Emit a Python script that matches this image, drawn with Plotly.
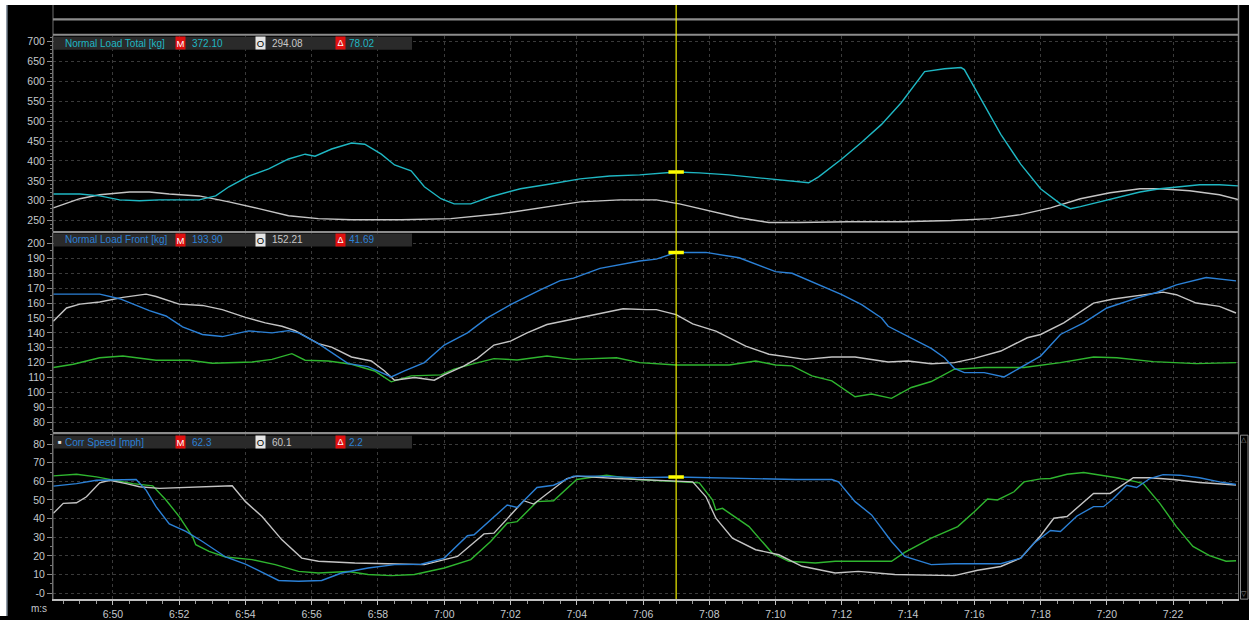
import plotly.graph_objects as go

# ---------------- data ----------------
tick_seconds = [410, 412, 414, 416, 418, 420, 422, 424, 426, 428, 430, 432, 434, 436, 438, 440, 442]
tick_labels = ["6:50", "6:52", "6:54", "6:56", "6:58", "7:00", "7:02", "7:04", "7:06",
               "7:08", "7:10", "7:12", "7:14", "7:16", "7:18", "7:20", "7:22"]
x_range = [408.19, 443.96]
cursor_time = 427.0

total_ticks = [250, 300, 350, 400, 450, 500, 550, 600, 650, 700]
front_ticks = [80, 90, 100, 110, 120, 130, 140, 150, 160, 170, 180, 190, 200]
speed_ticks = [0, 10, 20, 30, 40, 50, 60, 70, 80]
speed_tick_labels = ["-0", "10", "20", "30", "40", "50", "60", "70", "80"]

# Panel 1: Normal Load Total [kg]
t_total_a = [408.2, 409.0, 409.6, 410.2, 410.8, 411.4, 412.6, 413.1, 413.5, 414.1, 414.7, 415.3,
             415.8, 416.1, 416.6, 417.2, 417.6, 418.1, 418.5, 419.0, 419.4, 419.9, 420.3, 420.8,
             421.4, 422.3, 423.2, 424.1, 425.0, 425.9, 427.0, 427.7, 428.6, 429.5, 430.4, 431.0,
             431.3, 432.0, 432.6, 433.2, 433.8, 434.2, 434.5, 435.1, 435.6, 435.7, 436.2, 436.8,
             437.4, 438.0, 438.6, 438.9, 439.2, 439.8, 440.4, 441.0, 441.6, 442.2, 442.8, 443.4, 444.0]
total_a = [317, 317, 312, 302, 300, 302, 302, 312, 335, 362, 380, 405,
           417, 412, 430, 445, 442, 417, 390, 375, 335, 305, 292, 292,
           310, 330, 342, 355, 362, 365, 372.1, 370, 365, 357, 350, 345,
           360, 405, 447, 492, 547, 592, 625, 632, 635, 630, 555, 467,
           392, 330, 292, 280, 285, 297, 310, 322, 330, 335, 340, 340, 337]
t_total_b = [408.2, 409.0, 409.6, 410.5, 411.1, 411.7, 412.6, 413.5, 414.4, 415.3, 416.2, 417.2,
             418.7, 420.2, 421.7, 422.9, 424.1, 425.3, 426.4, 427.1, 428.0, 428.9, 429.8, 430.7,
             432.2, 433.8, 435.3, 436.5, 437.4, 438.3, 439.2, 440.1, 441.0, 441.6, 442.5, 443.4, 444.0]
total_b = [282, 305, 315, 322, 322, 317, 312, 297, 280, 262, 255, 252,
           252, 255, 267, 282, 297, 302, 302, 292, 275, 257, 245, 245,
           247, 247, 250, 255, 265, 282, 305, 320, 330, 330, 325, 315, 302]

# Panel 2: Normal Load Front [kg]
t_front_a = [408.2, 409.6, 410.2, 411.1, 411.6, 412.1, 412.7, 413.3, 414.1, 414.8, 415.3, 415.6,
             416.2, 416.6, 417.1, 417.7, 418.2, 418.4, 418.8, 419.4, 420.0, 420.7, 421.3, 422.0,
             422.9, 423.5, 423.9, 424.7, 425.9, 426.4, 427.0, 427.9, 428.9, 430.0, 430.5, 431.2,
             432.0, 432.6, 433.2, 433.4, 434.0, 434.7, 435.1, 435.4, 435.7, 436.3, 436.9, 437.5,
             438.0, 438.6, 439.3, 440.0, 440.9, 441.5, 442.1, 443.0, 443.9]
front_a = [166, 166, 162.9, 154.9, 151.3, 144, 138.9, 137.5, 141.3, 140, 141.5, 140,
           132.7, 126.7, 119.3, 117.3, 112.2, 110.4, 114.4, 120, 131.8, 140, 150, 158.9,
           168.9, 175.1, 176.7, 183.3, 188.2, 189.5, 193.9, 194, 190.4, 181.1, 180, 173.3,
           165.6, 158.9, 150, 144.4, 137.8, 129.6, 123.3, 116.2, 113.3, 113.3, 110.4, 117.8,
           124.4, 138.9, 146.7, 156.7, 163.3, 167.1, 172.2, 177.1, 174.9]
t_front_b = [408.2, 408.6, 409.0, 409.6, 410.3, 411.0, 411.3, 412.0, 412.7, 413.3, 414.0, 414.6,
             415.1, 415.5, 416.2, 416.6, 417.2, 417.8, 418.2, 418.5, 419.1, 419.7, 420.0, 420.6,
             421.0, 421.5, 422.0, 422.5, 423.1, 423.8, 424.5, 425.4, 426.1, 426.4, 427.0, 427.5,
             428.2, 429.1, 429.8, 430.9, 431.7, 432.4, 433.4, 434.0, 434.7, 435.4, 436.0, 436.8,
             437.6, 438.0, 438.7, 439.6, 440.2, 440.8, 441.7, 442.1, 442.7, 443.4, 443.9]
front_b = [147.8, 156.7, 159.3, 160.7, 163.8, 166, 164.4, 159.3, 158.4, 155.6, 150.4, 146.7,
           144.4, 141.5, 132.7, 130.4, 123.8, 121.1, 114.4, 108.2, 110, 108.2, 111.8, 117.8,
           122.9, 131.8, 134.4, 140, 145.6, 148.9, 152.2, 156.2, 155.6, 155.6, 152.2, 146,
           141.1, 131.1, 125.6, 122.2, 123.8, 123.8, 120.4, 121.1, 119.3, 120, 122.9, 127.8,
           136.7, 138.9, 146.7, 160, 162.7, 164.4, 167.3, 165.6, 160, 157.8, 153.3]
t_front_c = [408.2, 408.8, 409.6, 410.3, 411.3, 412.3, 413.0, 414.2, 414.8, 415.4, 415.8, 416.5,
             417.2, 417.9, 418.4, 419.0, 419.9, 420.3, 420.9, 421.5, 422.2, 423.1, 423.9, 425.2,
             425.9, 427.0, 428.6, 429.4, 430.0, 430.5, 431.1, 431.7, 432.4, 432.9, 433.5, 434.1,
             434.7, 435.4, 436.3, 437.5, 438.6, 439.6, 440.3, 441.4, 442.7, 443.9]
front_c = [116.7, 118.9, 123.3, 124.4, 121.6, 121.6, 119.6, 120.4, 122.2, 126, 121.6, 121.1,
           118.9, 114.4, 107.1, 111.1, 111.8, 115.6, 119.3, 122.7, 121.8, 124.4, 122.2, 123.3,
           120, 118.4, 118.4, 121.1, 118.4, 117.8, 111.1, 107.8, 97.1, 98.9, 96, 103.3,
           107.3, 115.6, 116.7, 116.7, 120, 123.8, 123.3, 120.7, 119.3, 120]

# Panel 3: Corr Speed [mph]
t_speed_a = [408.2, 408.9, 409.5, 410.1, 410.7, 411.0, 411.3, 411.7, 412.2, 412.7, 413.4, 414.0,
             414.5, 415.0, 415.6, 416.3, 416.9, 417.7, 418.5, 419.3, 420.0, 420.7, 420.9, 421.9,
             422.2, 422.8, 423.3, 423.9, 424.6, 425.8, 427.0, 428.8, 430.6, 431.7, 431.9, 432.4,
             432.9, 433.5, 433.9, 434.7, 435.4, 436.8, 437.4, 437.8, 438.3, 438.6, 439.1, 439.6,
             439.9, 440.2, 440.6, 440.9, 441.3, 441.7, 442.2, 442.8, 443.4, 443.9]
speed_a = [57.4, 58.8, 60.6, 61, 61, 55.3, 46.4, 37.2, 33.1, 27.7, 19.4, 15.6,
           11.4, 6.8, 6.4, 6.8, 10.8, 13.5, 15.3, 15.5, 18.8, 30.8, 31.3, 47.3,
           46, 56.7, 57.9, 62.8, 62.8, 62, 62.3, 61.5, 61, 61, 59.7, 49.1,
           42, 27.7, 19.7, 15.3, 15.8, 15.8, 18.8, 26.8, 33.6, 33.1, 41.4, 46.4,
           46.4, 50.8, 57.9, 56.7, 61.5, 63.6, 63.3, 61.9, 59.7, 58.3]
t_speed_b = [408.2, 408.5, 408.9, 409.2, 409.6, 409.9, 410.4, 410.8, 411.4, 412.6, 413.6, 414.0,
             414.5, 415.1, 415.7, 416.2, 417.3, 418.3, 419.4, 420.4, 421.2, 421.5, 422.4, 422.7,
             423.7, 424.0, 425.2, 427.0, 427.5, 427.9, 428.2, 428.7, 429.4, 430.1, 430.8, 431.8,
             432.5, 433.6, 435.4, 436.1, 436.8, 437.4, 438.0, 438.4, 438.8, 439.6, 440.1, 440.8,
             441.3, 442.0, 442.8, 443.9]
speed_b = [42.8, 48.2, 48.5, 51.7, 59.2, 60.6, 58.8, 57.1, 56.2, 57.1, 57.6, 49.1,
           41.1, 28.6, 18.8, 17.1, 16.2, 15.8, 15.3, 19.7, 31.8, 32.2, 49.6, 47.8,
           61.5, 62.8, 61.5, 60.1, 59.7, 51.7, 40.2, 29.5, 23.3, 20.6, 14.4, 10.8,
           11.7, 10, 9.4, 12.3, 14.3, 18.8, 30.8, 40.2, 41.1, 53.5, 53.5, 61.9,
           61.9, 61, 59.4, 58]
t_speed_c = [408.2, 408.9, 409.5, 410.0, 410.6, 411.2, 411.6, 412.0, 412.4, 412.5, 412.9, 413.4,
             414.2, 414.9, 415.6, 416.2, 417.1, 417.7, 418.4, 419.1, 420.0, 420.8, 421.4, 421.9,
             422.2, 422.8, 423.3, 424.0, 424.9, 425.8, 427.0, 427.7, 428.1, 428.2, 428.4, 429.2,
             429.9, 430.4, 431.2, 431.8, 433.5, 433.9, 434.7, 435.5, 436.0, 436.4, 436.7, 437.2,
             437.5, 438.0, 438.3, 438.8, 439.3, 439.8, 440.3, 440.9, 441.1, 441.6, 442.1, 442.6,
             443.1, 443.6, 443.9]
speed_c = [62.9, 63.8, 62.4, 60.6, 58.8, 57.6, 50, 41.1, 30.4, 26, 22.4, 19.4,
           18, 15.3, 11.7, 10.8, 11.6, 10, 9.4, 10, 13.5, 18, 27.7, 37.5,
           38.4, 49.1, 49.6, 61, 63.3, 61, 59.7, 59.2, 50, 44.6, 45.5, 35.7,
           21.5, 17.1, 16.2, 17.1, 17.1, 21.9, 29.5, 35.7, 43.7, 50.5, 50, 54.4,
           59.7, 61.3, 61.5, 63.8, 64.7, 63.3, 61.9, 59.7, 58.8, 48.2, 35.7, 25.1,
           20.1, 17.1, 17.4]

# Cursor read-outs: (title, M value, O value, delta)
hdr_titles = ["Normal Load Total [kg]", "Normal Load Front [kg]", "Corr Speed [mph]"]
hdr_m = ["372.10", "193.90", "62.3"]
hdr_o = ["294.08", "152.21", "60.1"]
hdr_d = ["78.02", "41.69", "2.2"]
cursor_values = [372.10, 193.90, 62.3]

# ---------------- styling ----------------
W, H = 1249, 620
CYAN = "#1fb7c3"
BLUE = "#2b80d6"
GREEN = "#2fb52f"
GRAY = "#c4c4c4"
TXT = "#c4c8cc"
GRID = "#3a3a3a"
FONT = "Liberation Sans"


def PX(px):
    return px / W


def PY(py):
    return (H - py) / H


x_dom = [PX(53), PX(1238)]
panels = [  # (top px, bottom px)
    (36, 232),
    (235, 435),
    (437, 603),
]
y_ranges = [[225, 715], [73.3, 206.7], [-3.2, 85.3]]
hdr_y = [43.5, 241.5, 445]
hdr_colors = [CYAN, BLUE, BLUE]

fig = go.Figure()

def line(t, v, color, ax):
    fig.add_trace(go.Scatter(x=t, y=v, mode="lines", line=dict(color=color, width=1.4),
                             xaxis="x" + ax, yaxis="y" + ax, hoverinfo="skip", showlegend=False))

line(t_total_b, total_b, GRAY, "")
line(t_total_a, total_a, CYAN, "")
line(t_front_c, front_c, GREEN, "2")
line(t_front_b, front_b, GRAY, "2")
line(t_front_a, front_a, BLUE, "2")
line(t_speed_c, speed_c, GREEN, "3")
line(t_speed_b, speed_b, GRAY, "3")
line(t_speed_a, speed_a, BLUE, "3")

for i, ax in enumerate(["", "2", "3"]):
    fig.add_trace(go.Scatter(x=[cursor_time], y=[cursor_values[i]], mode="markers",
                             marker=dict(symbol="line-ew", size=11,
                                         line=dict(width=3.5, color="#ffff00")),
                             xaxis="x" + ax, yaxis="y" + ax, hoverinfo="skip", showlegend=False))

tickfont = dict(family=FONT, size=10.5, color=TXT)

layout = dict(
    width=W, height=H, autosize=False,
    margin=dict(l=0, r=0, t=0, b=0),
    paper_bgcolor="black", plot_bgcolor="black",
    showlegend=False,
)

minor_x = [408.5 + 0.5 * k for k in range(72)]
for i, ax in enumerate(["", "2", "3"]):
    top, bot = panels[i]
    xa = dict(domain=x_dom, range=x_range, anchor="y" + ax, tickmode="array",
              tickvals=tick_seconds, showgrid=True, gridcolor=GRID, griddash="dot",
              gridwidth=1, zeroline=False, fixedrange=True)
    if ax == "3":
        xa.update(ticktext=tick_labels, tickfont=tickfont, ticks="outside", ticklen=4,
                  tickcolor="#bfbfbf", showline=True, linecolor="#bfbfbf", linewidth=2,
                  minor=dict(tickmode="array", tickvals=minor_x, ticks="outside", ticklen=3,
                             tickcolor="#9a9a9a", showgrid=False))
    else:
        xa.update(showticklabels=False, ticks="", showline=False)
    layout["xaxis" + ax] = xa

ytick_sets = [total_ticks, front_ticks, speed_ticks]
ytick_text = [[str(v) for v in total_ticks], [str(v) for v in front_ticks], speed_tick_labels]
minor_steps = [10, 5, 5]
for i, ax in enumerate(["", "2", "3"]):
    top, bot = panels[i]
    lo, hi = y_ranges[i]
    step = minor_steps[i]
    mv = []
    v = (int(lo // step) + 1) * step
    while v < hi:
        mv.append(v)
        v += step
    layout["yaxis" + ax] = dict(
        domain=[PY(bot), PY(top)], range=y_ranges[i], anchor="x" + ax,
        tickmode="array", tickvals=ytick_sets[i], ticktext=ytick_text[i],
        tickfont=tickfont, ticks="outside", ticklen=5, tickcolor="#8a8a8a",
        showline=True, linecolor="#6e6e6e", linewidth=1, mirror=True,
        showgrid=True, gridcolor=GRID, griddash="dot", zeroline=False, fixedrange=True,
        minor=dict(tickmode="array", tickvals=mv, ticks="outside", ticklen=2,
                   tickcolor="#7a7a7a", showgrid=False),
    )

shapes = []
# white page edges
shapes.append(dict(type="rect", xref="paper", yref="paper", x0=0, x1=PX(6.5), y0=0, y1=1,
                   fillcolor="white", line=dict(width=0), layer="above"))
shapes.append(dict(type="rect", xref="paper", yref="paper", x0=0, x1=1, y0=PY(5), y1=1,
                   fillcolor="white", line=dict(width=0), layer="above"))
shapes.append(dict(type="line", xref="paper", yref="paper", x0=PX(7), x1=PX(7), y0=0, y1=PY(5),
                   line=dict(color="#9fb3c8", width=1), layer="above"))
# frame lines for the top strips
shapes.append(dict(type="line", xref="paper", yref="paper", x0=PX(53), x1=PX(53), y0=PY(603), y1=PY(5),
                   line=dict(color="#6e6e6e", width=1), layer="above"))
shapes.append(dict(type="line", xref="paper", yref="paper", x0=PX(1238.5), x1=PX(1238.5), y0=PY(437),
                   y1=PY(5), line=dict(color="#8a8a8a", width=1.5), layer="above"))
for yy in [19.5, 35, 233.5, 436]:
    shapes.append(dict(type="line", xref="paper", yref="paper", x0=PX(53), x1=PX(1238.5),
                       y0=PY(yy), y1=PY(yy), line=dict(color="#8c8c8c", width=2.2), layer="above"))
# header bars
for i in range(3):
    yc = hdr_y[i]
    shapes.append(dict(type="rect", xref="paper", yref="paper", x0=PX(54), x1=PX(412),
                       y0=PY(yc + 6.5), y1=PY(yc - 6.5), fillcolor="#2a2a2a",
                       line=dict(width=0), layer="above"))
# scrollbar for bottom panel
shapes.append(dict(type="rect", xref="paper", yref="paper", x0=PX(1240.5), x1=PX(1248), y0=PY(603),
                   y1=PY(438), fillcolor="black", line=dict(color="#8a8a8a", width=1), layer="above"))
# cursor
shapes.append(dict(type="line", xref="x", yref="paper", x0=cursor_time, x1=cursor_time,
                   y0=PY(603), y1=PY(5), line=dict(color="#f0f000", width=1.2), layer="above"))
layout["shapes"] = shapes

ann = []
hfont = dict(family=FONT, size=10)
for i in range(3):
    yc = PY(hdr_y[i])
    col = hdr_colors[i]
    title_x = 63
    if i == 2:
        ann.append(dict(x=PX(56), y=yc, xref="paper", yref="paper", xanchor="left", yanchor="middle",
                        text="■", showarrow=False, font=dict(family=FONT, size=6, color="#e0e0e0")))
    ann.append(dict(x=PX(title_x), y=yc, xref="paper", yref="paper", xanchor="left", yanchor="middle",
                    text=hdr_titles[i], showarrow=False, font=dict(hfont, color=col)))
    # M box
    ann.append(dict(x=PX(180.5), y=yc, xref="paper", yref="paper", xanchor="center", yanchor="middle",
                    text="M", showarrow=False, bgcolor="#e01010", width=9, height=12, borderpad=0,
                    font=dict(family=FONT, size=9.5, color="white")))
    ann.append(dict(x=PX(189.5), y=yc, xref="paper", yref="paper", xanchor="left", yanchor="middle",
                    text=hdr_m[i], showarrow=False, font=dict(hfont, color=col)))
    # O box
    ann.append(dict(x=PX(260.5), y=yc, xref="paper", yref="paper", xanchor="center", yanchor="middle",
                    text="O", showarrow=False, bgcolor="#e6e6e6", width=9, height=12, borderpad=0,
                    font=dict(family=FONT, size=9.5, color="black")))
    ann.append(dict(x=PX(269.5), y=yc, xref="paper", yref="paper", xanchor="left", yanchor="middle",
                    text=hdr_o[i], showarrow=False, font=dict(hfont, color="#c8c8c8")))
    # delta box
    ann.append(dict(x=PX(340), y=yc, xref="paper", yref="paper", xanchor="center", yanchor="middle",
                    text="Δ", showarrow=False, bgcolor="#e01010", width=9, height=12, borderpad=0,
                    font=dict(family=FONT, size=9, color="white")))
    ann.append(dict(x=PX(346.5), y=yc, xref="paper", yref="paper", xanchor="left", yanchor="middle",
                    text=hdr_d[i], showarrow=False, font=dict(hfont, color=col)))

ann.append(dict(x=PX(39), y=PY(612), xref="paper", yref="paper", xanchor="center", yanchor="middle",
                text="m:s", showarrow=False, font=dict(family=FONT, size=10, color=TXT)))
ann.append(dict(x=PX(1244.3), y=PY(443), xref="paper", yref="paper", xanchor="center", yanchor="middle",
                text="△", showarrow=False, font=dict(family="DejaVu Sans", size=7, color="#9a9a9a")))
ann.append(dict(x=PX(1244.3), y=PY(598), xref="paper", yref="paper", xanchor="center", yanchor="middle",
                text="▽", showarrow=False, font=dict(family="DejaVu Sans", size=7, color="#9a9a9a")))
layout["annotations"] = ann

fig.update_layout(**layout)
fig.write_html("out.html")
